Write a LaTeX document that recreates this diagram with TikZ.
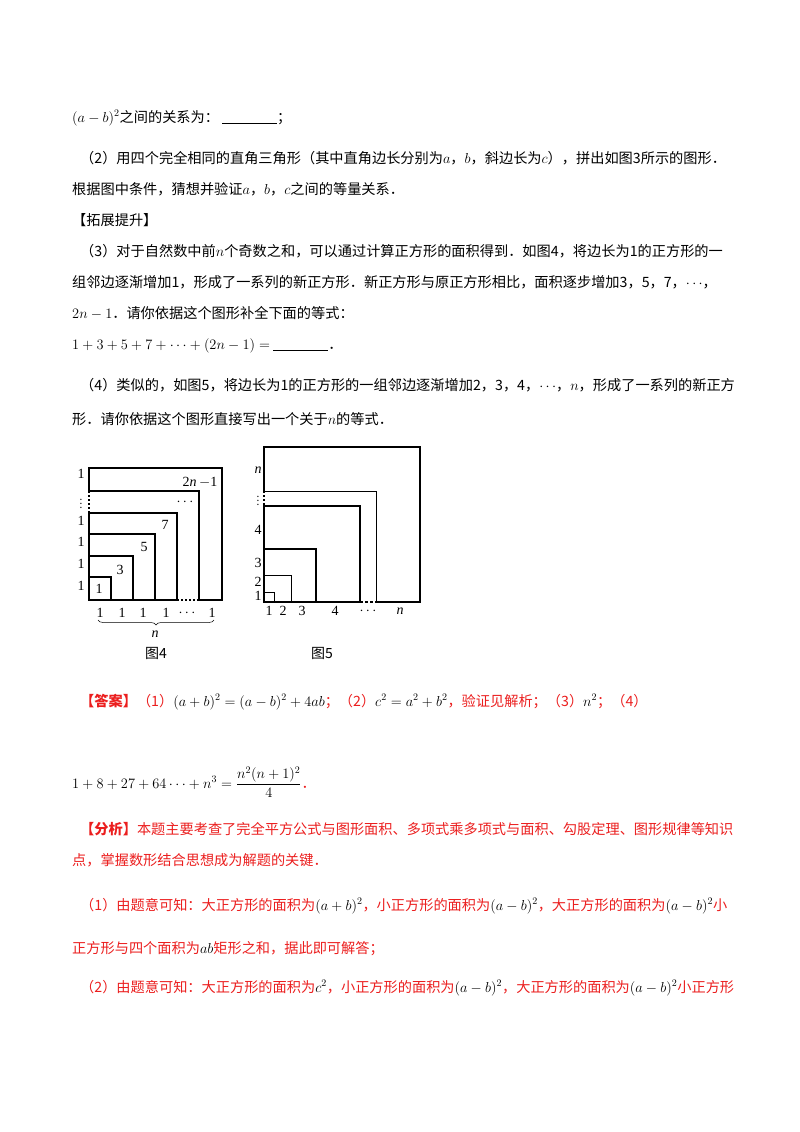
\documentclass[tikz,border=0pt]{standalone}
\usepackage{fontspec}
\setmainfont{Noto Sans CJK SC}
\newfontfamily\tms{Liberation Serif}
\usetikzlibrary{decorations.pathreplacing}
\definecolor{ans}{RGB}{235,30,30}
\begin{document}
\begin{tikzpicture}[x=1pt,y=-1pt,
  txt/.style={anchor=base west,inner sep=0pt,font=\fontsize{14.2}{16}\selectfont},
  lab/.style={inner sep=0pt,font=\fontsize{14}{15}\tms},
  figcap/.style={inner sep=0pt,font=\fontsize{14}{15}\selectfont},
  thick4/.style={line width=1.3pt},
  thin5/.style={line width=0.6pt}]
\useasboundingbox (0,0) rectangle (800,1132);
% ---- text ----
\node[txt] (t1) at (72,122) {$(a-b)^2$之间的关系为：\ \underline{\hspace{55pt}}；};
\node[txt] (t2) at (80,163) {（2）用四个完全相同的直角三角形（其中直角边长分别为$a$，$b$，斜边长为$c$），拼出如图3所示的图形．};
\node[txt] (t3) at (72,194) {根据图中条件，猜想并验证$a$，$b$，$c$之间的等量关系．};
\node[txt] (t4) at (72,225) {【拓展提升】};
\node[txt] (t5) at (80,256) {（3）对于自然数中前$n$个奇数之和，可以通过计算正方形的面积得到．如图4，将边长为1的正方形的一};
\node[txt] (t6) at (72,287) {组邻边逐渐增加1，形成了一系列的新正方形．新正方形与原正方形相比，面积逐步增加3，5，7，$\cdots$，};
\node[txt] (t7) at (72,318) {$2n-1$．请你依据这个图形补全下面的等式：};
\node[txt] (t8) at (72,349) {$1+3+5+7+\cdots+(2n-1)=$\ \underline{\hspace{55pt}}．};
\node[txt] (t9) at (80,390) {（4）类似的，如图5，将边长为1的正方形的一组邻边逐渐增加2，3，4，$\cdots$，$n$，形成了一系列的新正方};
\node[txt] (t10) at (72,424) {形．请你依据这个图形直接写出一个关于$n$的等式．};
% answers
\node[txt,text=ans] (a1) at (80,706) {\textbf{【答案】}（1）\textcolor{black}{$(a+b)^2=(a-b)^2+4ab$}；（2）\textcolor{black}{$c^2=a^2+b^2$}，验证见解析；（3）\textcolor{black}{$n^2$}；（4）};
\node[txt] (a2) at (72,788) {$\displaystyle 1+8+27+64\cdots+n^3=\frac{n^2(n+1)^2}{4}$\textcolor{ans}{．}};
\node[txt,text=ans] (f1) at (80,834) {\textbf{【分析】}本题主要考查了完全平方公式与图形面积、多项式乘多项式与面积、勾股定理、图形规律等知识};
\node[txt,text=ans] (f2) at (72,865) {点，掌握数形结合思想成为解题的关键．};
\node[txt,text=ans] (f3) at (80,910) {（1）由题意可知：大正方形的面积为\textcolor{black}{$(a+b)^2$}，小正方形的面积为\textcolor{black}{$(a-b)^2$}，大正方形的面积为\textcolor{black}{$(a-b)^2$}小};
\node[txt,text=ans] (f4) at (72,953) {正方形与四个面积为\textcolor{black}{$ab$}矩形之和，据此即可解答；};
\node[txt,text=ans] (f5) at (80,992) {（2）由题意可知：大正方形的面积为\textcolor{black}{$c^2$}，小正方形的面积为\textcolor{black}{$(a-b)^2$}，大正方形的面积为\textcolor{black}{$(a-b)^2$}小正方形};
% ---- figure 4 ----
\draw[thick4] (89,600) rectangle (222,468);
\draw[thick4] (89,577) -| (111,600);
\draw[thick4] (89,556) -| (133,600);
\draw[thick4] (89,534) -| (155,600);
\draw[thick4] (89,513) -| (177,600);
\draw[thick4] (89,491) -| (199,600);
\draw[line width=1.3pt,white] (89,492) -- (89,512);
\draw[line width=1.3pt,dash pattern=on 2pt off 2pt] (89,491) -- (89,513);
\draw[line width=1.3pt,white] (178,600) -- (198,600);
\draw[line width=1.3pt,dash pattern=on 2pt off 2pt] (177,600) -- (199,600);
\foreach \y/\t in {590/1,568/1,546/1,525/1,478/1} \node[lab,anchor=base] at (81,\y) {\t};
\node[lab,font=\fontsize{10}{11}\selectfont] at (81,501) {$\vdots$};
\node[lab] at (99,589) {1};
\node[lab] at (120,570) {3};
\node[lab] at (144,547) {5};
\node[lab] at (165,525) {7};
\node[lab] at (185,502) {$\cdots$};
\node[lab] at (200,482) {2\textit{n}\,$-$1};
\foreach \x/\t in {100/1,122/1,143/1,166/1,212/1} \node[lab] at (\x,613) {\t};
\node[lab] at (187,613) {$\cdots$};
\draw[decorate,decoration={brace,mirror,amplitude=5pt},line width=0.5pt] (98,620) -- (214,620);
\node[lab] (n4) at (155,634) {\textit{n}};
\node[figcap] (c4) at (156,653) {图4};
% ---- figure 5 ----
\draw[thick4] (264,602) rectangle (420,447);
\draw[thin5] (264,592) -| (274,602);
\draw[thin5] (264,575) -| (291,602);
\draw[thick4] (264,549) -| (316,602);
\draw[thick4] (264,506) -| (360,602);
\draw[thin5] (264,491) -| (376,602);
\draw[line width=1.3pt,white] (264,492) -- (264,505);
\draw[line width=1.3pt,dash pattern=on 2pt off 2pt] (264,491) -- (264,506);
\draw[line width=1.3pt,white] (361,602) -- (375,602);
\draw[line width=1.3pt,dash pattern=on 3pt off 2pt] (360,602) -- (376,602);
\node[lab] at (258,470) {\textit{n}};
\node[lab,font=\fontsize{10}{11}\selectfont] at (258,498) {$\vdots$};
\node[lab] at (258,530) {4};
\node[lab] at (258,563) {3};
\node[lab,anchor=base] at (258,586) {2};
\node[lab,anchor=base] at (258,600) {1};
\node[lab] at (269,611) {1};
\node[lab] at (283,611) {2};
\node[lab] at (302,611) {3};
\node[lab] at (335,611) {4};
\node[lab] at (368,611) {$\cdots$};
\node[lab] at (400,611) {\textit{n}};
\node[figcap] (c5) at (322,653) {图5};
\end{tikzpicture}
\end{document}
